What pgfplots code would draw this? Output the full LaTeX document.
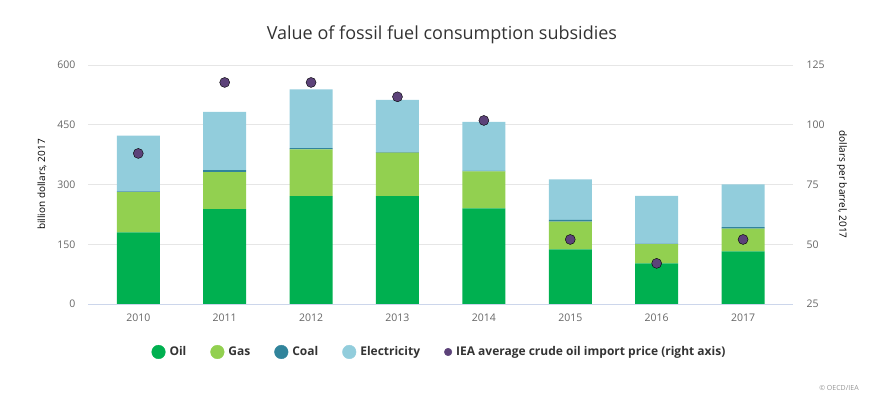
\documentclass[border=0pt]{standalone}
\usepackage{pgfplots}
\pgfplotsset{compat=1.18}
\usepackage{fontspec}
\setmainfont{Open Sans}
\definecolor{oil}{HTML}{00B050}
\definecolor{gas}{HTML}{92D050}
\definecolor{coal}{HTML}{31849B}
\definecolor{elec}{HTML}{92CDDC}
\definecolor{iea}{HTML}{5C4279}
\definecolor{txt}{HTML}{666666}
\definecolor{dark}{HTML}{333333}
\definecolor{gridc}{HTML}{E6E6E6}
\definecolor{axc}{HTML}{CCD6EB}
\pgfplotstableread{
x oil gas coal elec
0 180 101 2 140
1 238 93 5 146
2 271 117 3 148
3 271 109 1.5 131
4 240 93 1.5 123
5 137 70 4 102
6 102 48 1.5 120
7 132 57 4 107
}\subs
\pgfplotstableread{
x price
0 88
1 117.7
2 117.7
3 111.7
4 101.8
5 52
6 42
7 52
}\price
\begin{document}
\begin{tikzpicture}[x=1pt,y=1pt]
\useasboundingbox (0,0) rectangle (886,401);
\pgfplotsset{common/.style={
  at={(88pt,97pt)}, anchor=south west,
  scale only axis, width=705pt, height=239pt,
  xmin=-0.582, xmax=7.578,
  major tick length=0pt,
  ticklabel style={font=\fontsize{10.5}{12}\selectfont, text=txt},
  /pgf/number format/assume math mode=true,
  label style={font=\fontsize{12.5}{14}\selectfont, text=txt},
}}
\begin{axis}[common,
  ymin=0, ymax=600, ytick={0,150,300,450,600},
  xtick={0,1,2,3,4,5,6,7},
  xticklabels={2010,2011,2012,2013,2014,2015,2016,2017},
  ybar stacked, bar width=43pt,
  axis y line*=left, axis x line*=bottom,
  y axis line style={draw=none},
  x axis line style={axc, -, line width=0.8pt},
  ymajorgrids, grid style={gridc, line width=0.6pt},
  yticklabel style={xshift=-9pt},
  xticklabel style={yshift=-6pt},
  ylabel={billion dollars, 2017},
  every axis y label/.style={at={(axis description cs:-0.0652,0.5)}, rotate=90, anchor=center},
  title={Value of fossil fuel consumption subsidies},
  title style={at={(axis description cs:0.502,1.0)}, anchor=center, yshift=24pt, font=\fontsize{18}{21}\selectfont, text=dark},
]
\addplot[fill=oil, draw=none] table[x=x, y=oil] {\subs};
\addplot[fill=gas, draw=none] table[x=x, y=gas] {\subs};
\addplot[fill=coal, draw=none] table[x=x, y=coal] {\subs};
\addplot[fill=elec, draw=none] table[x=x, y=elec] {\subs};
\end{axis}
\begin{axis}[common,
  ymin=25, ymax=125, ytick={25,50,75,100,125},
  axis y line*=right, axis x line=none,
  y axis line style={draw=none},
  yticklabel style={xshift=10pt},
  ylabel={dollars per barrel, 2017},
  every axis y label/.style={at={(axis description cs:1.0695,0.5)}, rotate=-90, anchor=center},
  legend columns=-1,
  legend style={at={(axis description cs:0.4985,-0.2008)}, anchor=center, draw=none, fill=none,
    font=\fontsize{12}{14}\selectfont\bfseries, text=dark,
    /tikz/every odd column/.append style={column sep=2pt},
    /tikz/every even column/.append style={column sep=22pt}},
]
\addlegendimage{legend image code/.code={\fill[oil] (7pt,0pt) circle (6.8pt);}}
\addlegendentry{Oil}
\addlegendimage{legend image code/.code={\fill[gas] (7pt,0pt) circle (6.8pt);}}
\addlegendentry{Gas}
\addlegendimage{legend image code/.code={\fill[coal] (7pt,0pt) circle (6.8pt);}}
\addlegendentry{Coal}
\addlegendimage{legend image code/.code={\fill[elec] (7pt,0pt) circle (6.8pt);}}
\addlegendentry{Electricity}
\addplot[only marks, mark=*, mark size=5pt, mark options={fill=iea, draw=none},
  legend image code/.code={\fill[iea] (7pt,0pt) circle (3.8pt);}] table[x=x, y=price] {\price};
\addlegendentry{IEA average crude oil import price (right axis)}
\end{axis}
\node[font=\fontsize{7}{8}\selectfont, text=txt!70] at (839,13) {© OECD/IEA};
\end{tikzpicture}
\end{document}
